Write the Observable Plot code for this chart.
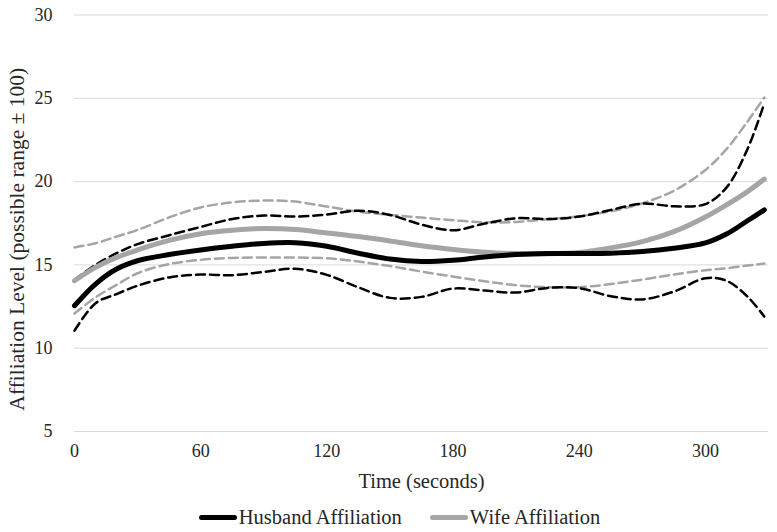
<!DOCTYPE html>
<html>
<head>
<meta charset="utf-8">
<script src="https://cdn.jsdelivr.net/npm/d3@7"></script>
<script src="https://cdn.jsdelivr.net/npm/@observablehq/plot@0.6"></script>
<style>
  html, body { margin: 0; padding: 0; background: #fff; }
  #legend { display: flex; justify-content: center; align-items: center; margin-top: 6px; height: 22px;
    font-family: "Liberation Serif", "Times New Roman", serif; font-size: 20.5px; color: #262626; padding-left: 22px; }
  .item { display: flex; align-items: center; margin: 0 14px; }
  .sw { width: 38px; height: 5px; border-radius: 3px; margin-right: 2px; }
</style>
</head>
<body>
<div id="chart"></div>
<div id="legend"></div>
<script>
const times = [0, 10, 20, 30, 45, 60, 75, 90, 105, 120, 135, 150, 165, 180, 195, 210, 225, 240, 255, 270, 285, 300, 310, 320, 328];
const husband      = [12.55, 13.85, 14.75, 15.25, 15.62, 15.9, 16.12, 16.29, 16.33, 16.12, 15.7, 15.35, 15.2, 15.28, 15.48, 15.62, 15.68, 15.68, 15.7, 15.8, 16.0, 16.32, 16.85, 17.65, 18.3];
const husbandUpper = [14.1, 15.0, 15.7, 16.25, 16.78, 17.28, 17.75, 17.96, 17.9, 18.02, 18.25, 18.0, 17.42, 17.08, 17.48, 17.8, 17.75, 17.9, 18.3, 18.68, 18.52, 18.65, 19.64, 21.95, 24.7];
const husbandLower = [11.05, 12.7, 13.25, 13.75, 14.25, 14.42, 14.38, 14.58, 14.77, 14.4, 13.65, 13.02, 13.08, 13.58, 13.46, 13.34, 13.62, 13.6, 13.12, 12.93, 13.4, 14.2, 14.05, 13.1, 11.9];
const wife      = [14.05, 14.85, 15.45, 15.9, 16.47, 16.87, 17.08, 17.18, 17.12, 16.92, 16.7, 16.44, 16.15, 15.93, 15.76, 15.68, 15.67, 15.75, 16.02, 16.4, 17.0, 17.88, 18.6, 19.4, 20.15];
const wifeUpper = [16.05, 16.3, 16.7, 17.1, 17.85, 18.45, 18.75, 18.86, 18.8, 18.5, 18.2, 18.0, 17.84, 17.68, 17.56, 17.58, 17.74, 17.92, 18.22, 18.7, 19.45, 20.7, 21.95, 23.6, 25.05];
const wifeLower = [12.08, 13.05, 13.8, 14.5, 15.05, 15.3, 15.42, 15.44, 15.44, 15.4, 15.2, 14.93, 14.6, 14.3, 14.02, 13.78, 13.66, 13.66, 13.85, 14.12, 14.42, 14.68, 14.8, 14.96, 15.08];
const xTicks = [0, 60, 120, 180, 240, 300];
const yTicks = [5, 10, 15, 20, 25, 30];
const seriesNames = ["Husband Affiliation", "Wife Affiliation"];
const xLabel = "Time (seconds)";
const yLabel = "Affiliation Level (possible range \u00b1 100)";

const black = "#000000", gray = "#a5a5a5";
const toRows = (vals) => times.map((t, i) => ({t, v: vals[i]}));

const chart = Plot.plot({
  width: 777, height: 500,
  marginLeft: 74, marginRight: 9, marginTop: 14.5, marginBottom: 69,
  style: {fontFamily: "'Liberation Serif', 'Times New Roman', serif", fontSize: "18px", color: "#262626", background: "#fff"},
  x: {domain: [0, 330], ticks: xTicks, tickSize: 0, tickPadding: 13, label: null},
  y: {domain: [5, 30], ticks: yTicks, tickSize: 0, tickPadding: 22, label: null},
  marks: [
    Plot.ruleY(yTicks, {stroke: "#d9d9d9", strokeWidth: 1}),
    Plot.axisX({ticks: xTicks, tickSize: 0, tickPadding: 13, label: null}),
    Plot.axisY({ticks: yTicks, tickSize: 0, tickPadding: 22, label: null}),
    Plot.line(toRows(wifeUpper), {x: "t", y: "v", stroke: gray, strokeWidth: 2.5, strokeDasharray: "9,5", curve: "catmull-rom"}),
    Plot.line(toRows(wifeLower), {x: "t", y: "v", stroke: gray, strokeWidth: 2.5, strokeDasharray: "9,5", curve: "catmull-rom"}),
    Plot.line(toRows(husbandUpper), {x: "t", y: "v", stroke: black, strokeWidth: 2.5, strokeDasharray: "9,5", curve: "catmull-rom"}),
    Plot.line(toRows(husbandLower), {x: "t", y: "v", stroke: black, strokeWidth: 2.5, strokeDasharray: "9,5", curve: "catmull-rom"}),
    Plot.line(toRows(wife), {x: "t", y: "v", stroke: gray, strokeWidth: 5, curve: "catmull-rom", strokeLinecap: "round"}),
    Plot.line(toRows(husband), {x: "t", y: "v", stroke: black, strokeWidth: 5, curve: "catmull-rom", strokeLinecap: "round"}),
    Plot.text([xLabel], {frameAnchor: "bottom", dy: 56, text: d => d, fill: "#262626", fontSize: 20.5}),
    Plot.text([yLabel], {frameAnchor: "left", textAnchor: "middle", dx: -57, dy: 16, rotate: -90, text: d => d, fill: "#262626", fontSize: 21.5})
  ]
});
document.getElementById("chart").appendChild(chart);

const legend = document.getElementById("legend");
[[seriesNames[0], black], [seriesNames[1], gray]].forEach(([name, color]) => {
  const item = document.createElement("div");
  item.className = "item";
  const sw = document.createElement("div");
  sw.className = "sw";
  sw.style.background = color;
  const label = document.createElement("span");
  label.textContent = name;
  item.appendChild(sw);
  item.appendChild(label);
  legend.appendChild(item);
});
</script>
</body>
</html>
